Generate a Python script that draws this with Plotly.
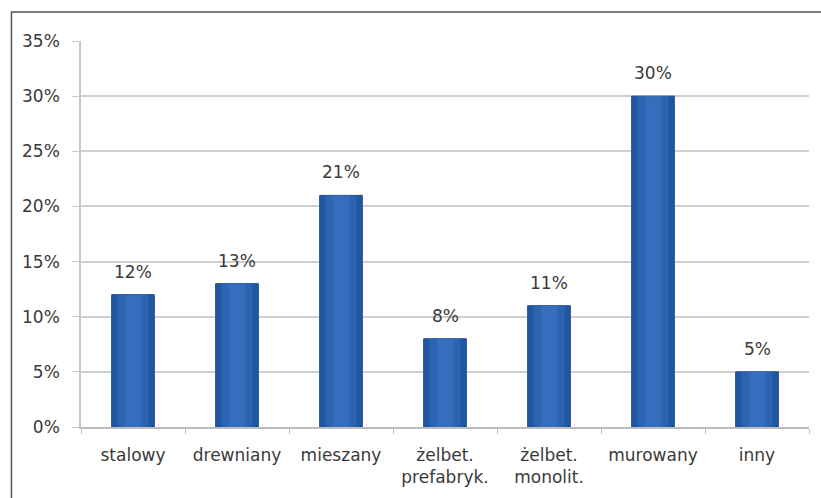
import plotly.graph_objects as go

categories = ["stalowy", "drewniany", "mieszany", "żelbet.<br>prefabryk.", "żelbet.<br>monolit.", "murowany", "inny"]
values = [0.12, 0.13, 0.21, 0.08, 0.11, 0.30, 0.05]
labels = ["12%", "13%", "21%", "8%", "11%", "30%", "5%"]
y_ticks = [0, 0.05, 0.10, 0.15, 0.20, 0.25, 0.30, 0.35]
y_tick_labels = ["0%", "5%", "10%", "15%", "20%", "25%", "30%", "35%"]

FONT = "DejaVu Sans"
TXT = "#3a3a3a"
FS = 17

fig = go.Figure()
# layered bars to imitate the cylinder-like gradient
fig.add_bar(x=categories, y=values, width=0.41, marker=dict(color="#2356a2", line=dict(color="#1c4886", width=1)),
            hoverinfo="skip", showlegend=False)
fig.add_bar(x=categories, y=values, width=0.30, marker=dict(color="#2c64b2", line=dict(width=0)),
            hoverinfo="skip", showlegend=False)
fig.add_bar(x=categories, y=values, width=0.16, marker=dict(color="#346ebd", line=dict(width=0)),
            hoverinfo="skip", showlegend=False)

for c, v, t in zip(categories, values, labels):
    fig.add_annotation(x=c, y=v, text=t, showarrow=False, yanchor="bottom", yshift=11,
                       font=dict(family=FONT, size=FS, color=TXT))

fig.update_layout(
    width=821, height=498,
    margin=dict(l=81, r=12, t=41, b=71),
    paper_bgcolor="white", plot_bgcolor="white",
    barmode="overlay",
    font=dict(family=FONT, size=FS, color=TXT),
    xaxis=dict(
        type="category", tickson="boundaries", ticks="outside", ticklen=5, tickcolor="#bdbdbd",
        showline=True, linecolor="#bdbdbd", linewidth=1.5, showgrid=False,
        tickfont=dict(family=FONT, size=FS, color=TXT), ticklabelstandoff=12,
    ),
    yaxis=dict(
        range=[0, 0.35], tickvals=y_ticks, ticktext=y_tick_labels,
        ticks="outside", ticklen=7, tickcolor="#c8c8c8",
        showline=True, linecolor="#c8c8c8", linewidth=1.5,
        showgrid=True, gridcolor="#d0d0d0", gridwidth=1.5, zeroline=False,
        tickfont=dict(family=FONT, size=FS, color=TXT), ticklabelstandoff=9,
    ),
    shapes=[dict(type="rect", xref="paper", yref="paper", x0=-0.0955, y0=-0.3, x1=1.05, y1=1.0752,
                 line=dict(color="#555555", width=1.5), fillcolor="rgba(0,0,0,0)", layer="below")],
)

fig.write_html("out.html")
